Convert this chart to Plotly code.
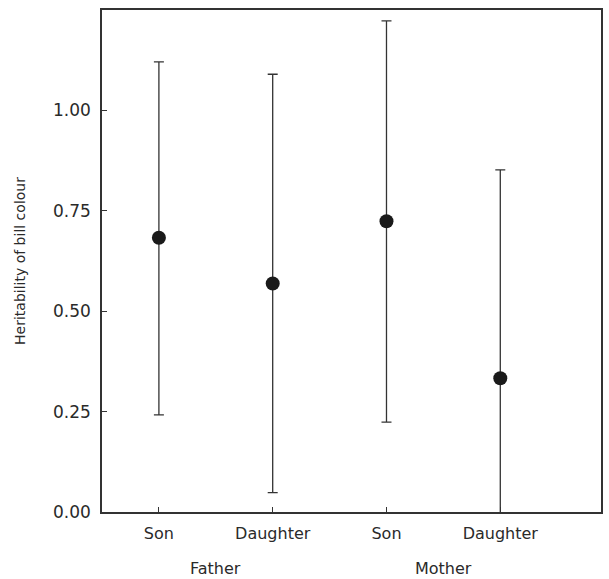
import plotly.graph_objects as go

# Data
parents = ["Father", "Father", "Mother", "Mother"]
offspring = ["Son", "Daughter", "Son", "Daughter"]
heritability = [0.683, 0.569, 0.724, 0.333]
upper = [1.121, 1.090, 1.223, 0.852]
lower = [0.242, 0.048, 0.224, -0.03]

y_ticks = [0.0, 0.25, 0.5, 0.75, 1.0]
y_tick_labels = ["0.00", "0.25", "0.50", "0.75", "1.00"]

xpos = list(range(1, len(offspring) + 1))
err_plus = [u - h for u, h in zip(upper, heritability)]
err_minus = [h - l for h, l in zip(heritability, lower)]

ink = "#1a1a1a"
text_ink = "#2a2a2a"
font_family = "DejaVu Sans"

fig = go.Figure()
fig.add_trace(go.Scatter(
    x=xpos, y=heritability, mode="markers",
    marker=dict(size=14, color=ink),
    error_y=dict(type="data", symmetric=False, array=err_plus, arrayminus=err_minus,
                 color="#333333", thickness=1.3, width=5),
    showlegend=False, cliponaxis=True,
))

# group labels centered under each parent's categories
groups = []
for p in parents:
    if p not in groups:
        groups.append(p)
for g in groups:
    xs = [x for x, p in zip(xpos, parents) if p == g]
    fig.add_annotation(x=sum(xs) / len(xs), xref="x", y=0, yref="paper",
                       text=g, showarrow=False, yanchor="middle", yshift=-56,
                       font=dict(family=font_family, size=16, color=text_ink))

axis_common = dict(showline=True, linecolor="#333333", linewidth=1.5, mirror=True,
                   ticks="inside", ticklen=5, tickcolor="#333333", tickwidth=1.2,
                   showgrid=False, zeroline=False)

fig.update_xaxes(range=[0.5, 4.885], tickvals=xpos, ticktext=offspring,
                 ticklabelstandoff=6,
                 tickfont=dict(family=font_family, size=16, color=text_ink),
                 **axis_common)
fig.update_yaxes(range=[0, 1.25], tickvals=y_ticks, ticktext=y_tick_labels,
                 ticklabelstandoff=6,
                 tickfont=dict(family=font_family, size=17, color=text_ink),
                 title=dict(text="Heritability of bill colour", standoff=24,
                            font=dict(family=font_family, size=14, color=text_ink)),
                 **axis_common)

fig.update_layout(width=609, height=579,
                  margin=dict(l=102, r=6, t=10, b=67),
                  paper_bgcolor="white", plot_bgcolor="white")

fig.write_html("out.html",
               config={"displayModeBar": False},
               post_script="document.body.style.margin='0px';"
                           "document.body.style.overflow='hidden';")
